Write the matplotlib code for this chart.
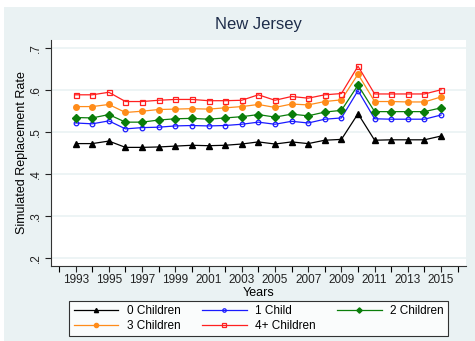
import matplotlib
matplotlib.use("Agg")
import matplotlib.pyplot as plt
from matplotlib.patches import Rectangle

plt.rcParams['font.family'] = ['Liberation Sans', 'DejaVu Sans']

years = list(range(1993, 2016))

# simulated replacement rate by number of children
kids0 = [0.472, 0.472, 0.478, 0.463, 0.463, 0.464, 0.466, 0.468, 0.467, 0.468, 0.471, 0.476, 0.471,
         0.476, 0.472, 0.480, 0.482, 0.543, 0.480, 0.481, 0.481, 0.481, 0.490]
kids1 = [0.521, 0.519, 0.526, 0.507, 0.510, 0.511, 0.514, 0.515, 0.514, 0.515, 0.518, 0.523, 0.518,
         0.525, 0.521, 0.530, 0.533, 0.598, 0.531, 0.530, 0.530, 0.530, 0.540]
kids2 = [0.534, 0.533, 0.541, 0.523, 0.523, 0.528, 0.531, 0.532, 0.530, 0.533, 0.536, 0.541, 0.535,
         0.542, 0.538, 0.547, 0.551, 0.611, 0.548, 0.548, 0.548, 0.548, 0.557]
kids3 = [0.560, 0.560, 0.565, 0.546, 0.549, 0.553, 0.554, 0.555, 0.554, 0.557, 0.560, 0.565, 0.558,
         0.566, 0.564, 0.572, 0.576, 0.637, 0.572, 0.572, 0.571, 0.571, 0.583]
kids4 = [0.588, 0.588, 0.594, 0.572, 0.572, 0.575, 0.577, 0.577, 0.574, 0.574, 0.575, 0.588, 0.575,
         0.584, 0.580, 0.588, 0.591, 0.656, 0.590, 0.590, 0.590, 0.590, 0.600]

labels = ['0 Children', '1 Child', '2 Children', '3 Children', '4+ Children']
colors = ['black', '#1a1aff', '#0a7d0a', '#ff8c1a', '#ff2020']

W, H = 475, 341
fig = plt.figure(figsize=(W / 100, H / 100), dpi=100, facecolor='white')
fig.patches.append(Rectangle((4 / W, 0), 1, 1 - 7 / H, transform=fig.transFigure,
                             facecolor='#eaf2f3', edgecolor='none', zorder=-10))

ax = fig.add_axes([50.7 / W, 1 - 265.7 / H, (466 - 50.7) / W, (265.7 - 40) / H])
ax.set_facecolor('white')

series = [kids0, kids1, kids2, kids3, kids4]
styles = [dict(marker='^', ms=4, mfc='black', mec='black'),
          dict(marker='o', ms=3.3, mfc='none', mec=colors[1], mew=0.9),
          dict(marker='D', ms=3.6, mfc=colors[2], mec=colors[2]),
          dict(marker='o', ms=4, mfc=colors[3], mec=colors[3]),
          dict(marker='s', ms=3.6, mfc='none', mec=colors[4], mew=0.9)]
handles = []
for vals, lab, c, st in zip(series, labels, colors, styles):
    h, = ax.plot(years, vals, color=c, lw=0.9, label=lab, **st)
    handles.append(h)

ax.set_xlim(1991.5, 2016.5)
ax.set_ylim(0.1817, 0.7183)
ax.set_xticks(range(1993, 2016, 2))
ax.set_xticks(range(1992, 2017), minor=True)
ax.set_yticks([0.2, 0.3, 0.4, 0.5, 0.6, 0.7])
ax.set_yticklabels(['.2', '.3', '.4', '.5', '.6', '.7'], rotation=90, va='center')
ax.tick_params(axis='both', direction='out', length=4, width=0.8, labelsize=8.5,
               colors='#222222', pad=2)
ax.tick_params(axis='x', which='minor', length=4, width=0.8)
ax.grid(axis='y', color='#eaf2f3', lw=1.2)
ax.set_axisbelow(True)
for s in ['top', 'right']:
    ax.spines[s].set_visible(False)
for s in ['left', 'bottom']:
    ax.spines[s].set_color('#333333')
    ax.spines[s].set_linewidth(0.8)

ax.set_xlabel('Years', fontsize=9, labelpad=1)
ax.set_ylabel('Simulated Replacement Rate', fontsize=9, labelpad=2)
ax.set_title('New Jersey', fontsize=12, color='#1e2d4a', pad=8)

order = [0, 3, 1, 4, 2]
leg = fig.legend([handles[i] for i in order], [labels[i] for i in order], ncol=3,
                 loc='center', bbox_to_anchor=(258.5 / W, 1 - 318.5 / H), fontsize=8.5,
                 frameon=True, fancybox=False, edgecolor='black', handlelength=3.8,
                 columnspacing=1.8, handletextpad=0.7, borderpad=0.35, labelspacing=0.25,
                 markerscale=0.75)
leg.get_frame().set_linewidth(0.8)

fig.savefig('out.png', dpi=100, facecolor=fig.get_facecolor())
